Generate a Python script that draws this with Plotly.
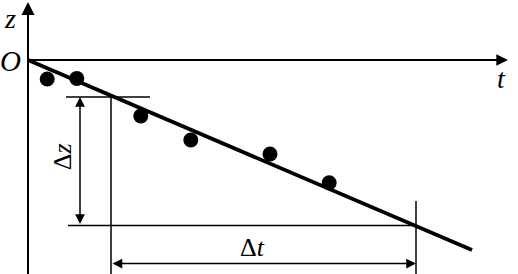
import plotly.graph_objects as go

# measured points (t, z)
t_points = [0.48, 1.22, 2.82, 4.07, 6.05, 7.53]
z_points = [-0.475, -0.46, -1.40, -2.00, -2.35, -3.07]

# fitted line end points
fit_t = [0.0, 11.1]
fit_z = [0.0, -4.75]

# dimension construction values
dz_top = -0.925
dz_bottom = -4.14
dt_left = 2.075
dt_right = 9.7

t_min, t_max = -0.7, 12.25
z_min, z_max = -5.35, 1.5

serif = "Liberation Serif"
black = "#000000"

fig = go.Figure()

fig.add_trace(go.Scatter(x=fit_t, y=fit_z, mode="lines",
                         line=dict(color=black, width=3.8), hoverinfo="skip"))
fig.add_trace(go.Scatter(x=t_points, y=z_points, mode="markers",
                         marker=dict(color=black, size=15, line=dict(width=0)),
                         hoverinfo="skip"))

shapes = []
def seg(x0, y0, x1, y1, w=1.5):
    shapes.append(dict(type="line", xref="x", yref="y", x0=x0, y0=y0, x1=x1, y1=y1,
                       line=dict(color=black, width=w)))

# axes
seg(0, z_min, 0, 1.4, 2)
seg(0, 0, 11.9, 0, 1.8)
# dimension lines for delta z
seg(0.95, dz_top, 3.05, dz_top)
seg(1.0, dz_bottom, dt_right, dz_bottom)
# extension lines for delta t
seg(dt_left, dz_top, dt_left, z_min)
seg(dt_right, -3.525, dt_right, z_min)

annotations = []
def arrow(xh, yh, xt, yt, both=False, w=1.5):
    annotations.append(dict(x=xh, y=yh, ax=xt, ay=yt, xref="x", yref="y",
                            axref="x", ayref="y", text="", showarrow=True,
                            arrowhead=2, arrowsize=1.3, arrowwidth=w,
                            arrowcolor=black,
                            arrowside="end+start" if both else "end"))

arrow(0, 1.45, 0, 0.5, w=2)
arrow(12.0, 0, 11.0, 0, w=1.8)
arrow(1.3, dz_top, 1.3, dz_bottom, both=True)
arrow(dt_right, -5.09, dt_left, -5.09, both=True)

def label(x, y, text, size=22, angle=0):
    annotations.append(dict(x=x, y=y, xref="x", yref="y", text=text, showarrow=False,
                            textangle=angle,
                            font=dict(family=serif, size=size, color=black)))

label(-0.44, 1.05, "<i>z</i>", 28)
label(-0.44, -0.02, "<i>O</i>", 29)
label(11.83, -0.46, "<i>t</i>", 28)
label(0.86, -2.42, "Δ<i>z</i>", 26, angle=-90)
label(5.6, -4.68, "Δ<i>t</i>", 26)

fig.update_layout(
    width=518, height=274,
    margin=dict(l=0, r=0, t=0, b=0),
    paper_bgcolor="white", plot_bgcolor="white",
    showlegend=False,
    shapes=shapes, annotations=annotations,
    xaxis=dict(range=[t_min, t_max], visible=False, fixedrange=True),
    yaxis=dict(range=[z_min, z_max], visible=False, fixedrange=True),
)

fig.write_html("out.html")
